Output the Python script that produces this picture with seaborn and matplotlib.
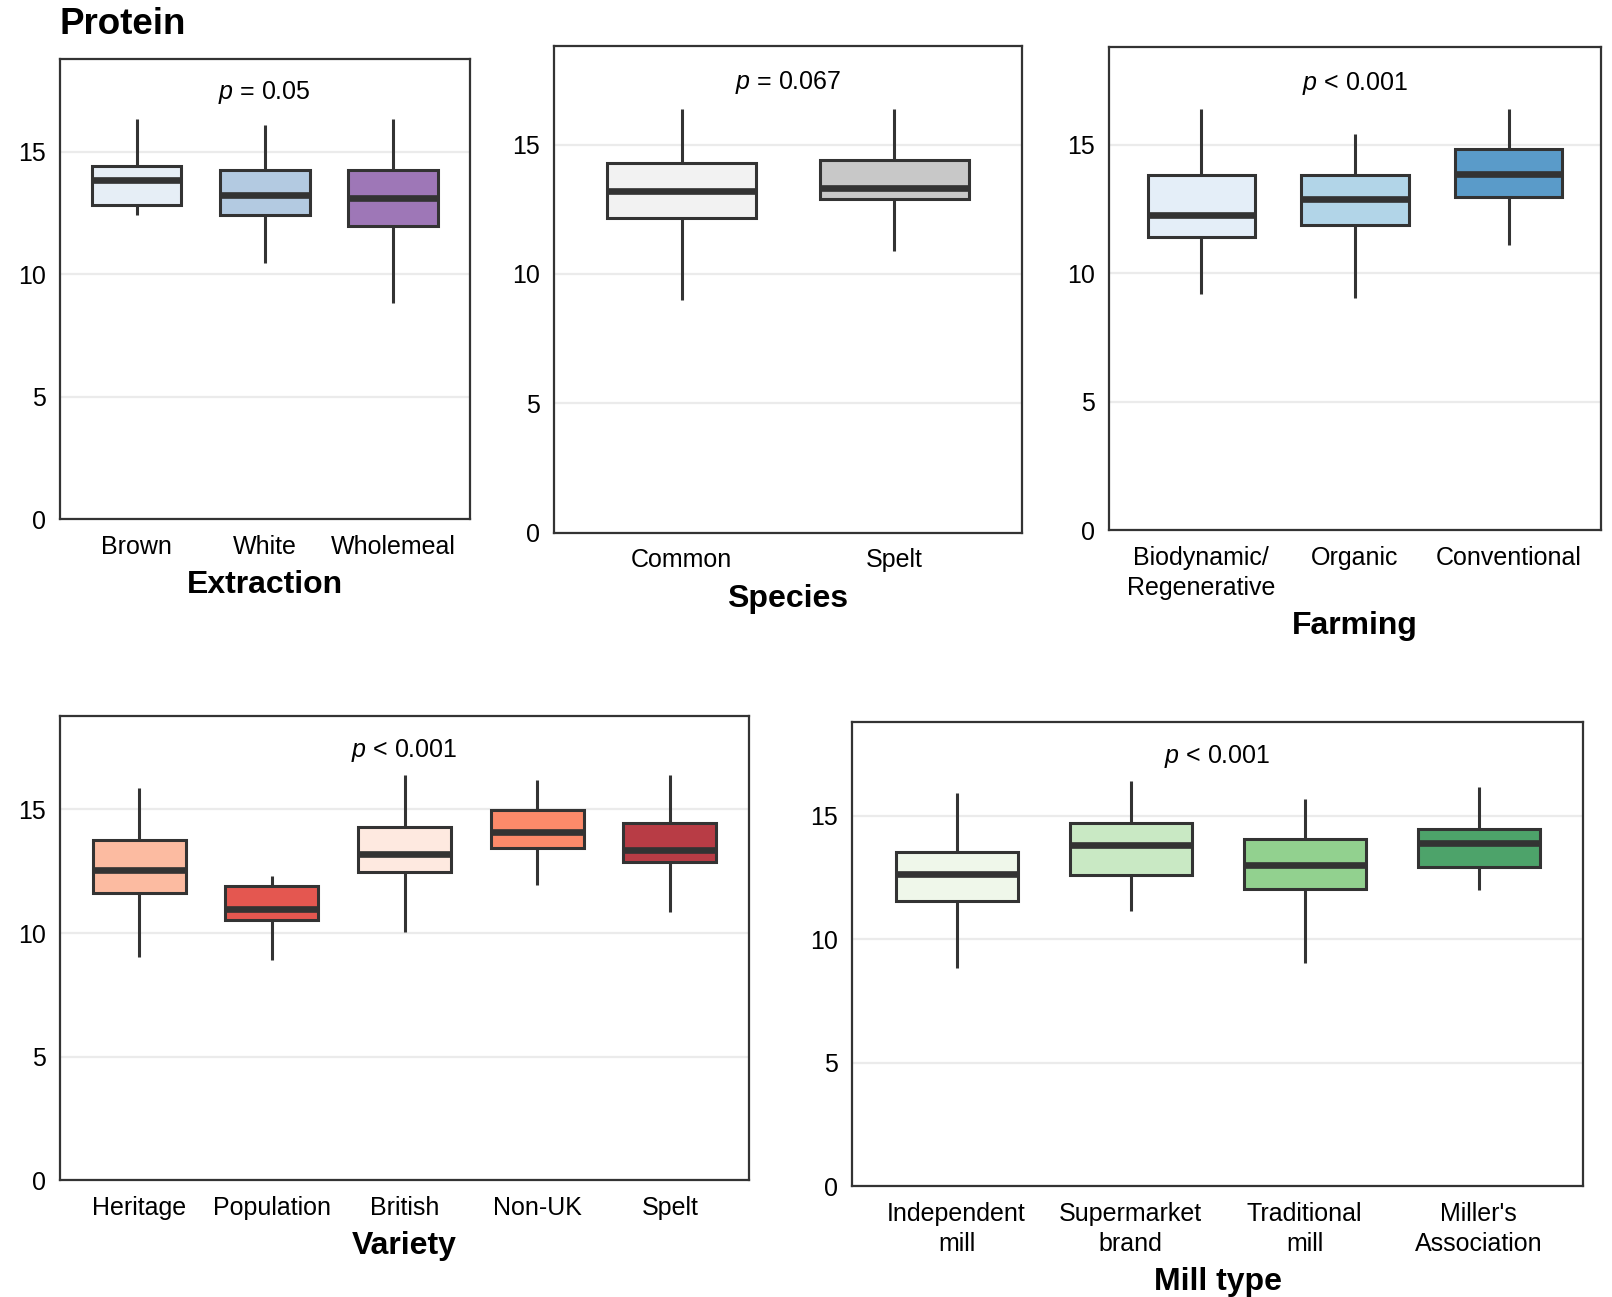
import numpy as np
import pandas as pd
import matplotlib
matplotlib.use("Agg")
import matplotlib.pyplot as plt
import seaborn as sns
from matplotlib import font_manager as fm

sns.set_theme(style="white")
plt.rcParams['font.family'] = ['Liberation Sans', 'DejaVu Sans']
plt.rcParams['mathtext.fontset'] = 'custom'
plt.rcParams['mathtext.it'] = 'Liberation Sans:italic'
plt.rcParams['mathtext.rm'] = 'Liberation Sans'
plt.rcParams['text.color'] = 'black'
plt.rcParams['axes.labelcolor'] = 'black'


def has_font(name):
    try:
        fm.findfont(fm.FontProperties(family=name), fallback_to_default=False)
        return True
    except Exception:
        return False


NARROW = 'Liberation Sans Narrow' if has_font('Liberation Sans Narrow') else 'Liberation Sans'

# ---------------- data (five-number summaries) ----------------
extraction_cats = ["Brown", "White", "Wholemeal"]
extraction_lo = [12.42, 10.46, 8.83]
extraction_q1 = [12.83, 12.42, 11.96]
extraction_med = [13.83, 13.25, 13.12]
extraction_q3 = [14.42, 14.25, 14.25]
extraction_hi = [16.33, 16.08, 16.33]
extraction_colors = ["#E6EEF6", "#B3CAE1", "#9E77B7"]

species_cats = ["Common", "Spelt"]
species_lo = [9.00, 10.87]
species_q1 = [12.18, 12.90]
species_med = [13.21, 13.33]
species_q3 = [14.29, 14.40]
species_hi = [16.39, 16.39]
species_colors = ["#F2F2F2", "#C8C8C8"]

farming_cats = ["Biodynamic/\nRegenerative", "Organic", "Conventional"]
farming_lo = [9.20, 9.04, 11.12]
farming_q1 = [11.40, 11.88, 12.96]
farming_med = [12.28, 12.88, 13.88]
farming_q3 = [13.84, 13.84, 14.84]
farming_hi = [16.40, 15.44, 16.40]
farming_colors = ["#E4EEF8", "#B2D5E8", "#5A9BC9"]

variety_cats = ["Heritage", "Population", "British", "Non-UK", "Spelt"]
variety_lo = [9.02, 8.89, 10.05, 11.96, 10.84]
variety_q1 = [11.63, 10.51, 12.46, 13.42, 12.88]
variety_med = [12.55, 10.97, 13.21, 14.08, 13.34]
variety_q3 = [13.75, 11.92, 14.29, 14.96, 14.46]
variety_hi = [15.87, 12.30, 16.41, 16.20, 16.41]
variety_colors = ["#FCBBA1", "#E45750", "#FEE9E0", "#FC8A6A", "#B83C45"]

mill_cats = ["Independent\nmill", "Supermarket\nbrand", "Traditional\nmill", "Miller's\nAssociation"]
mill_lo = [8.83, 11.13, 9.04, 12.00]
mill_q1 = [11.54, 12.58, 12.04, 12.92]
mill_med = [12.63, 13.83, 13.00, 13.88]
mill_q3 = [13.54, 14.71, 14.04, 14.46]
mill_hi = [15.92, 16.42, 15.67, 16.17]
mill_colors = ["#EFF7EA", "#C9E9C4", "#92D18F", "#4DA36A"]

p_labels = ["0.05", "0.067", "< 0.001", "< 0.001", "< 0.001"]
axis_titles = ["Extraction", "Species", "Farming", "Variety", "Mill type"]

panels = [
    (extraction_cats, extraction_lo, extraction_q1, extraction_med, extraction_q3, extraction_hi, extraction_colors),
    (species_cats, species_lo, species_q1, species_med, species_q3, species_hi, species_colors),
    (farming_cats, farming_lo, farming_q1, farming_med, farming_q3, farming_hi, farming_colors),
    (variety_cats, variety_lo, variety_q1, variety_med, variety_q3, variety_hi, variety_colors),
    (mill_cats, mill_lo, mill_q1, mill_med, mill_q3, mill_hi, mill_colors),
]

# ---------------- layout ----------------
W, H = 1612, 1297
fig = plt.figure(figsize=(W / 100, H / 100), dpi=100)
fig.patch.set_facecolor("white")

# (left, top, right, bottom) in pixels
boxes_px = [
    (59.6, 58.6, 469.9, 519.2),
    (554.1, 46.3, 1021.9, 532.5),
    (1109.2, 47.3, 1600.7, 530.5),
    (59.6, 715.5, 749.4, 1180.2),
    (852.2, 721.7, 1583.1, 1186.3),
]

EDGE = "#333333"

for i, (box, panel) in enumerate(zip(boxes_px, panels)):
    l, t, r, b = box
    ax = fig.add_axes([l / W, 1 - b / H, (r - l) / W, (b - t) / H])
    cats, lo, q1, med, q3, hi, cols = panel
    rows = []
    for c, a, q_1, m, q_3, h in zip(cats, lo, q1, med, q3, hi):
        for v in (a, q_1, m, q_3, h):
            rows.append({"cat": c, "val": v})
    df = pd.DataFrame(rows)
    sns.boxplot(data=df, x="cat", y="val", hue="cat", order=cats, hue_order=cats,
                palette=cols, legend=False, whis=(0, 100), width=0.7,
                linecolor=EDGE, linewidth=2.2, showcaps=False, fliersize=0,
                medianprops=dict(linewidth=4.8, color=EDGE),
                saturation=1, ax=ax)
    n = len(cats)
    ax.set_xlim(-0.6, n - 0.4)
    ax.set_ylim(0, 18.8)
    ax.set_yticks([0, 5, 10, 15])
    ax.set_facecolor("white")
    ax.yaxis.grid(True, color="#EBEBEB", linewidth=1.6)
    ax.xaxis.grid(False)
    ax.set_axisbelow(True)
    for s in ax.spines.values():
        s.set_visible(True)
        s.set_color(EDGE)
        s.set_linewidth(1.6)
    fam = 'Liberation Sans' if i < 3 else NARROW
    lsize = 18
    ax.tick_params(axis="both", direction="out", length=5, width=1.5, color=EDGE,
                   labelcolor="black", labelsize=lsize)
    ax.tick_params(axis="x", pad=6.5)
    ax.tick_params(axis="y", pad=5)
    for lab in ax.get_xticklabels() + ax.get_yticklabels():
        lab.set_family(fam)
        lab.set_linespacing(1.28)
    ax.set_ylabel("")
    ax.set_xlabel(axis_titles[i], fontsize=23, fontweight="bold", family=fam,
                  labelpad=8, color="black")
    p = p_labels[i]
    if p.startswith("<"):
        txt = r"$p$ < " + p[2:]
    else:
        txt = r"$p$ = " + p
    ax.text((n - 1) / 2, 17.4, txt, ha="center", va="center", fontsize=lsize,
            family=fam, color="black")

fig.text(59.6 / W, 1 - 24.5 / H, "Protein", fontsize=26.5, fontweight="bold",
         ha="left", va="center", color="black")

fig.savefig("out.png", dpi=100, facecolor="white")
